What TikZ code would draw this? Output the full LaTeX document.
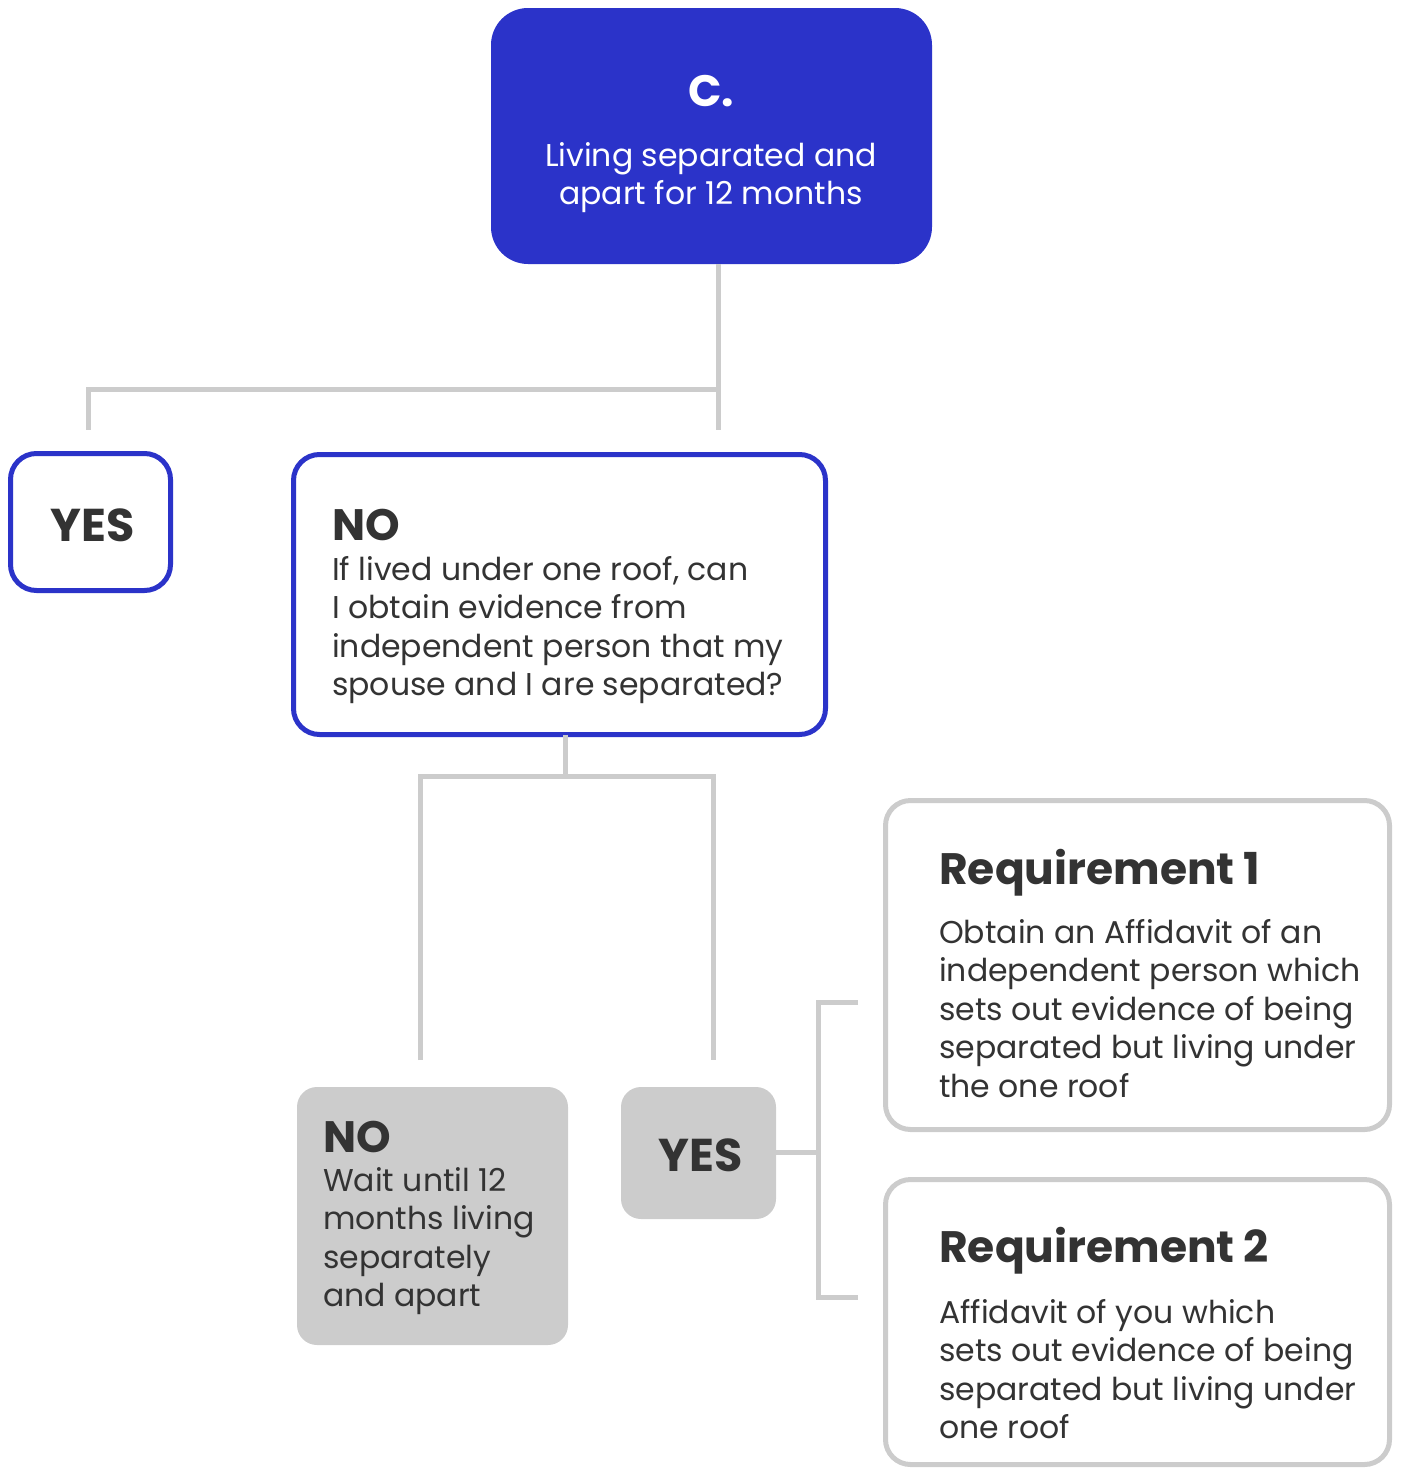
\documentclass[tikz,border=0pt]{standalone}
\usepackage{fontspec}
\setmainfont{Poppins}
\definecolor{brandblue}{RGB}{43,51,201}
\definecolor{linegray}{RGB}{204,204,204}
\definecolor{inkgray}{RGB}{51,51,51}
\newcommand{\txtbody}{\fontsize{31.5}{38.5}\selectfont}
\newcommand{\txthead}{\fontsize{44}{50}\selectfont\bfseries}
\newcommand{\txtyes}{\fontsize{46}{50}\selectfont\bfseries}
\newcommand{\txtreq}{\fontsize{44}{52}\selectfont\bfseries}
\newcommand{\lines}[1]{\parbox[t]{480pt}{\raggedright #1}}

\begin{document}
\begin{tikzpicture}[x=1pt,y=-1pt,
  link/.style={draw=linegray,line width=5pt},
  box/.style={rectangle,inner sep=0pt,outer sep=0pt},
  headbox/.style={box,fill=brandblue,rounded corners=37pt},
  choicebox/.style={box,draw=brandblue,fill=white,line width=5pt,rounded corners=26pt},
  greybox/.style={box,fill=linegray,rounded corners=20pt},
  reqbox/.style={box,draw=linegray,fill=white,line width=5pt,rounded corners=25pt},
  label/.style={inner sep=0pt,text=inkgray}]

  \useasboundingbox (0,0) rectangle (1405,1470);

  % boxes
  \node[headbox,minimum width=441,minimum height=256] (top) at (711.5,136) {};
  \node[choicebox,minimum width=160,minimum height=137] (yesA) at (90.5,522) {};
  \node[choicebox,minimum width=532,minimum height=280] (noA) at (559.5,594.5) {};
  \node[greybox,minimum width=271,minimum height=258] (noB) at (432.5,1216) {};
  \node[greybox,minimum width=155,minimum height=132] (yesB) at (698.5,1153) {};
  \node[reqbox,minimum width=504,minimum height=329] (reqA) at (1137.5,965) {};
  \node[reqbox,minimum width=504,minimum height=285] (reqB) at (1137.5,1322) {};

  % texts
  \node[anchor=base,inner sep=0pt,text=white,font=\txthead] (topT) at (711,106) {C.};
  \node[anchor=base,inner sep=0pt,text=white,font=\txtbody] (topL) at (711,166)
    {\parbox[t]{440pt}{\centering Living separated and\\apart for 12 months}};
  \node[anchor=base,label,font=\txtyes] (yesAT) at (92.5,541) {YES};
  \node[anchor=base west,label,font=\txthead] (noAT) at (332,540) {NO};
  \node[anchor=base west,label,font=\txtbody] (noAL) at (332,580)
    {\lines{If lived under one roof, can\\I obtain evidence from\\independent person that my\\spouse and I are separated?}};
  \node[anchor=base west,label,font=\txthead] (noBT) at (323,1152) {NO};
  \node[anchor=base west,label,font=\txtbody] (noBL) at (323,1191)
    {\lines{Wait until 12\\months living\\separately\\and apart}};
  \node[anchor=base,label,font=\txtyes] (yesBT) at (701,1171) {YES};
  \node[anchor=base west,label,font=\txtreq] (reqAT) at (939,884) {Requirement 1};
  \node[anchor=base west,label,font=\txtbody] (reqAL) at (939,943)
    {\lines{Obtain an Affidavit of an\\independent person which\\sets out evidence of being\\separated but living under\\the one roof}};
  \node[anchor=base west,label,font=\txtreq] (reqBT) at (939,1262) {Requirement 2};
  \node[anchor=base west,label,font=\txtbody] (reqBL) at (939,1323)
    {\lines{Affidavit of you which\\sets out evidence of being\\separated but living under\\one roof}};

  % connectors
  \coordinate (jA) at (718,389);
  \coordinate (endA) at (718,430);
  \coordinate (endB) at (88,430);
  \draw[link] (top.south -| jA) -- (endA);
  \draw[link] (jA) -| (endB);

  \coordinate (jB) at (565,776);
  \coordinate (endC) at (420,1060);
  \coordinate (endD) at (713,1060);
  \draw[link] (noA.south -| jB) -- (jB);
  \draw[link] (endC) |- (jB) -| (endD);

  \coordinate (jC) at (818,1152);
  \coordinate (endE) at (858,1002);
  \coordinate (endF) at (858,1297);
  \draw[link] (yesB.east |- jC) -- (jC);
  \draw[link] (endE) -| (jC) |- (endF);
\end{tikzpicture}
\end{document}
